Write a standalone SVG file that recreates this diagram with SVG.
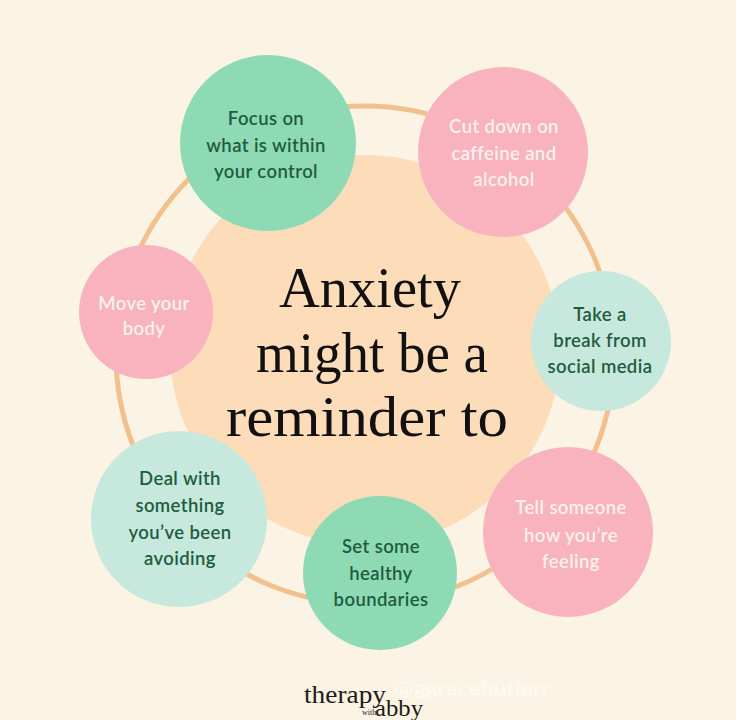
<svg xmlns="http://www.w3.org/2000/svg" width="736" height="720" viewBox="0 0 736 720">
<style>
.node text{font-family:Lato,"Noto Sans",sans-serif;font-size:18.5px;font-weight:600;letter-spacing:0.4px;text-anchor:middle;}
.dk{fill:#1F5C3F;}
.lt{fill:#FDF1EF;}
.green{fill:#8DDAB5;}
.pink{fill:#F8B3BE;}
.teal{fill:#C7E8DC;}
.title{font-family:"Liberation Serif","Times New Roman",serif;font-size:56px;fill:#121010;text-anchor:middle;}
</style>
<rect width="736" height="720" fill="#FBF3E4"/>
<g id="connectors">
<circle cx="365" cy="355" r="249" fill="none" stroke="#F2C08C" stroke-width="5"/>
</g>
<g id="center">
<circle cx="365" cy="350" r="195" fill="#FCDCB9"/>
<text class="title" x="370" y="307" textLength="182" lengthAdjust="spacingAndGlyphs">Anxiety</text>
<text class="title" x="372" y="372" textLength="232" lengthAdjust="spacingAndGlyphs">might be a</text>
<text class="title" x="367" y="436" textLength="282" lengthAdjust="spacingAndGlyphs">reminder to</text>
</g>
<g id="n-focus" class="node">
<circle class="green" cx="268" cy="143" r="88"/>
<text class="dk" x="266" y="125">Focus on</text>
<text class="dk" x="266" y="152">what is within</text>
<text class="dk" x="266" y="178">your control</text>
</g>
<g id="n-caffeine" class="node">
<circle class="pink" cx="503" cy="152" r="85"/>
<text class="lt" x="504" y="133">Cut down on</text>
<text class="lt" x="504" y="160">caffeine and</text>
<text class="lt" x="504" y="186">alcohol</text>
</g>
<g id="n-move" class="node">
<circle class="pink" cx="146" cy="312" r="67"/>
<text class="lt" x="144" y="310">Move your</text>
<text class="lt" x="144" y="335">body</text>
</g>
<g id="n-break" class="node">
<circle class="teal" cx="601" cy="341" r="70"/>
<text class="dk" x="600" y="321">Take a</text>
<text class="dk" x="600" y="347">break from</text>
<text class="dk" x="600" y="373">social media</text>
</g>
<g id="n-deal" class="node">
<circle class="teal" cx="179" cy="519" r="88"/>
<text class="dk" x="180" y="485">Deal with</text>
<text class="dk" x="180" y="512">something</text>
<text class="dk" x="180" y="539">you’ve been</text>
<text class="dk" x="180" y="565">avoiding</text>
</g>
<g id="n-boundaries" class="node">
<circle class="green" cx="380" cy="573" r="77"/>
<text class="dk" x="381" y="553">Set some</text>
<text class="dk" x="381" y="580">healthy</text>
<text class="dk" x="381" y="606">boundaries</text>
</g>
<g id="n-tell" class="node">
<circle class="pink" cx="568" cy="532" r="85"/>
<text class="lt" x="571" y="514">Tell someone</text>
<text class="lt" x="571" y="542">how you’re</text>
<text class="lt" x="571" y="568">feeling</text>
</g>
<g id="footer">
<text x="304" y="703" font-family="Liberation Serif,serif" font-size="26" fill="#1E1A18" textLength="82" lengthAdjust="spacingAndGlyphs">therapy</text>
<text x="362" y="715" font-family="Liberation Serif,serif" font-size="8" fill="#1E1A18">with</text>
<text x="375" y="716" font-family="Liberation Serif,serif" font-size="24" fill="#1E1A18" textLength="48" lengthAdjust="spacingAndGlyphs">abby</text>
<text x="394" y="695" font-family="Lato,sans-serif" font-size="19" fill="#FFFFFF" fill-opacity="0.6" textLength="156" lengthAdjust="spacingAndGlyphs">@ggracebutlerr</text>
</g>
</svg>
